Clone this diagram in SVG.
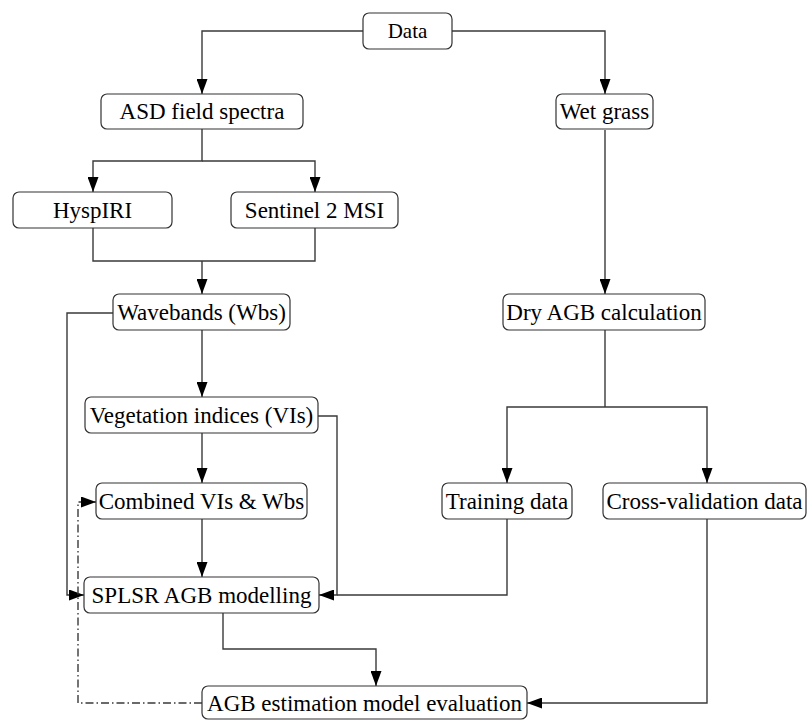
<svg xmlns="http://www.w3.org/2000/svg" width="807" height="720" viewBox="0 0 807 720">
<defs>
<marker id="ah" markerWidth="15" markerHeight="11" refX="15" refY="5.5" orient="auto" markerUnits="userSpaceOnUse">
<path d="M0,0 L15,5.5 L0,11 Z" fill="#000"/>
</marker>
<style>
.box{fill:#fff;stroke:#333;stroke-width:1.2}
.t{font-family:"Liberation Serif","Times New Roman",serif;font-size:23px;fill:#000;text-anchor:middle}
.c{fill:none;stroke:#3a3a3a;stroke-width:1.4}
.a{marker-end:url(#ah)}
.dd{stroke-dasharray:8,3,1.5,3}
</style>
</defs>
<rect width="807" height="720" fill="#fff"/>
<g id="connectors">
<path class="c a" d="M363,31 H202 V94"/>
<path class="c a" d="M452,31 H605 V94"/>
<path class="c a" d="M202,129 V161 H93 V192"/>
<path class="c a" d="M202,161 H315 V192"/>
<path class="c" d="M93,228 V261 H315 V228"/>
<path class="c a" d="M202,261 V294"/>
<path class="c a" d="M202,330 V397"/>
<path class="c a" d="M113,313 H67 V595 H84"/>
<path class="c a" d="M202,433 V483"/>
<path class="c a" d="M318,416 H337 V595 H319"/>
<path class="c a" d="M202,519 V577"/>
<path class="c" d="M507,519 V595 H337"/>
<path class="c a" d="M223,613 V649 H376 V686"/>
<path class="c a" d="M605,130 V294"/>
<path class="c" d="M605,330 V407"/>
<path class="c a" d="M605,407 H507 V483"/>
<path class="c a" d="M605,407 H707 V483"/>
<path class="c a" d="M707,519 V703 H527"/>
<path class="c dd a" d="M202,703 H78 V502 H96"/>
</g>
<g id="data"><rect class="box" x="363" y="13" width="89" height="36" rx="6"/><text class="t" x="407.5" y="38" style="font-size:21px">Data</text></g>
<g id="asd"><rect class="box" x="101" y="94" width="202" height="35" rx="6"/><text class="t" x="202" y="119">ASD field spectra</text></g>
<g id="wetgrass"><rect class="box" x="556" y="94" width="97" height="35" rx="6"/><text class="t" x="604.5" y="119">Wet grass</text></g>
<g id="hyspiri"><rect class="box" x="13" y="192" width="159" height="36" rx="6"/><text class="t" x="92.5" y="218">HyspIRI</text></g>
<g id="sentinel"><rect class="box" x="231" y="192" width="167" height="36" rx="6"/><text class="t" x="314.5" y="218">Sentinel 2 MSI</text></g>
<g id="wavebands"><rect class="box" x="113" y="294" width="177" height="36" rx="6"/><text class="t" x="201.5" y="320">Wavebands (Wbs)</text></g>
<g id="dryagb"><rect class="box" x="503" y="294" width="202" height="36" rx="6"/><text class="t" x="604" y="320">Dry AGB calculation</text></g>
<g id="vis"><rect class="box" x="85" y="397" width="233" height="36" rx="6"/><text class="t" x="201.5" y="423">Vegetation indices (VIs)</text></g>
<g id="combined"><rect class="box" x="96" y="483" width="211" height="36" rx="6"/><text class="t" x="201.5" y="509">Combined VIs &amp; Wbs</text></g>
<g id="training"><rect class="box" x="442" y="483" width="130" height="36" rx="6"/><text class="t" x="507" y="509">Training data</text></g>
<g id="crossval"><rect class="box" x="603" y="483" width="203" height="36" rx="6"/><text class="t" x="704.5" y="509">Cross-validation data</text></g>
<g id="splsr"><rect class="box" x="84" y="577" width="235" height="36" rx="6"/><text class="t" x="201.5" y="603">SPLSR AGB modelling</text></g>
<g id="eval"><rect class="box" x="202" y="686" width="325" height="33" rx="6"/><text class="t" x="364.5" y="711">AGB estimation model evaluation</text></g>
</svg>
